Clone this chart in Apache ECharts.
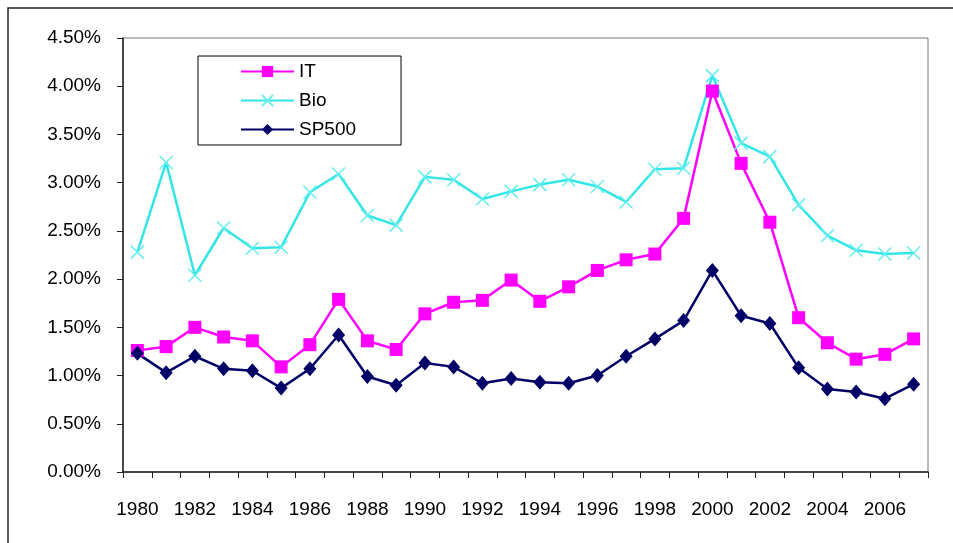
<!DOCTYPE html>
<html>
<head>
<meta charset="utf-8">
<script src="https://cdn.jsdelivr.net/npm/echarts@6/dist/echarts.min.js"></script>
<style>
html,body{margin:0;padding:0;background:#fff;}
#chart{width:953px;height:543px;}
</style>
</head>
<body>
<div id="chart"></div>
<script>
const years = ['1980','1981','1982','1983','1984','1985','1986','1987','1988','1989','1990','1991','1992','1993','1994','1995','1996','1997','1998','1999','2000','2001','2002','2003','2004','2005','2006','2007'];
const itValues = [1.26,1.30,1.50,1.40,1.36,1.09,1.32,1.79,1.36,1.27,1.64,1.76,1.78,1.99,1.77,1.92,2.09,2.20,2.26,2.63,3.95,3.20,2.59,1.60,1.34,1.17,1.22,1.38];
const bioValues = [2.28,3.21,2.04,2.53,2.32,2.33,2.90,3.09,2.66,2.56,3.06,3.03,2.83,2.91,2.98,3.03,2.96,2.80,3.14,3.15,4.11,3.41,3.27,2.77,2.45,2.30,2.26,2.27];
const spValues = [1.23,1.03,1.20,1.07,1.05,0.87,1.07,1.42,0.99,0.90,1.13,1.09,0.92,0.97,0.93,0.92,1.00,1.20,1.38,1.57,2.09,1.62,1.54,1.08,0.86,0.83,0.76,0.91];
const yTicks = {min: 0, max: 4.5, interval: 0.5};

const FONT = "'Liberation Sans', Arial, sans-serif";
const chart = echarts.init(document.getElementById('chart'), null, {renderer: 'canvas'});
chart.setOption({
  backgroundColor: '#ffffff',
  animation: false,
  graphic: [{
    type: 'rect',
    shape: {x: 8, y: 8, width: 1000, height: 600},
    style: {fill: 'none', stroke: '#222', lineWidth: 1.5},
    silent: true
  }],
  grid: {left: 123, right: 25, top: 38, bottom: 71, show: true, borderColor: '#777', borderWidth: 1, backgroundColor: 'transparent'},
  legend: {
    left: 198, top: 56, orient: 'vertical',
    itemWidth: 53, itemHeight: 14, itemGap: 10,
    padding: [6, 45, 6, 42],
    borderColor: '#000', borderWidth: 1,
    backgroundColor: '#fff',
    textStyle: {fontFamily: FONT, fontSize: 19, color: '#000'},
    data: ['IT', 'Bio', 'SP500']
  },
  xAxis: {
    type: 'category', data: years, boundaryGap: true,
    axisLine: {lineStyle: {color: '#222', width: 1.5}},
    axisTick: {show: true, interval: 0, length: 6, inside: false, lineStyle: {color: '#222'}},
    axisLabel: {interval: 1, margin: 28, fontFamily: FONT, fontSize: 19, color: '#000'},
    splitLine: {show: false}
  },
  yAxis: {
    type: 'value', min: yTicks.min, max: yTicks.max, interval: yTicks.interval,
    axisLine: {show: true, lineStyle: {color: '#222', width: 1.5}},
    axisTick: {show: true, length: 6, lineStyle: {color: '#222'}},
    axisLabel: {margin: 22, fontFamily: FONT, fontSize: 19, color: '#000', formatter: v => v.toFixed(2) + '%'},
    splitLine: {show: false}
  },
  series: [
    {
      name: 'IT', type: 'line', data: itValues,
      symbol: 'rect', symbolSize: 13,
      lineStyle: {color: '#ff00ff', width: 2.5},
      itemStyle: {color: '#ff00ff'}
    },
    {
      name: 'Bio', type: 'line', data: bioValues,
      symbol: 'path://M0,0L10,10M0,10L10,0', symbolSize: 13,
      lineStyle: {color: '#33e6e6', width: 2.5},
      itemStyle: {color: '#33e6e6', borderColor: '#66eeee', borderWidth: 1.5}
    },
    {
      name: 'SP500', type: 'line', data: spValues,
      symbol: 'diamond', symbolSize: [13, 15],
      lineStyle: {color: '#000066', width: 2.5},
      itemStyle: {color: '#000066'}
    }
  ]
});
</script>
</body>
</html>
